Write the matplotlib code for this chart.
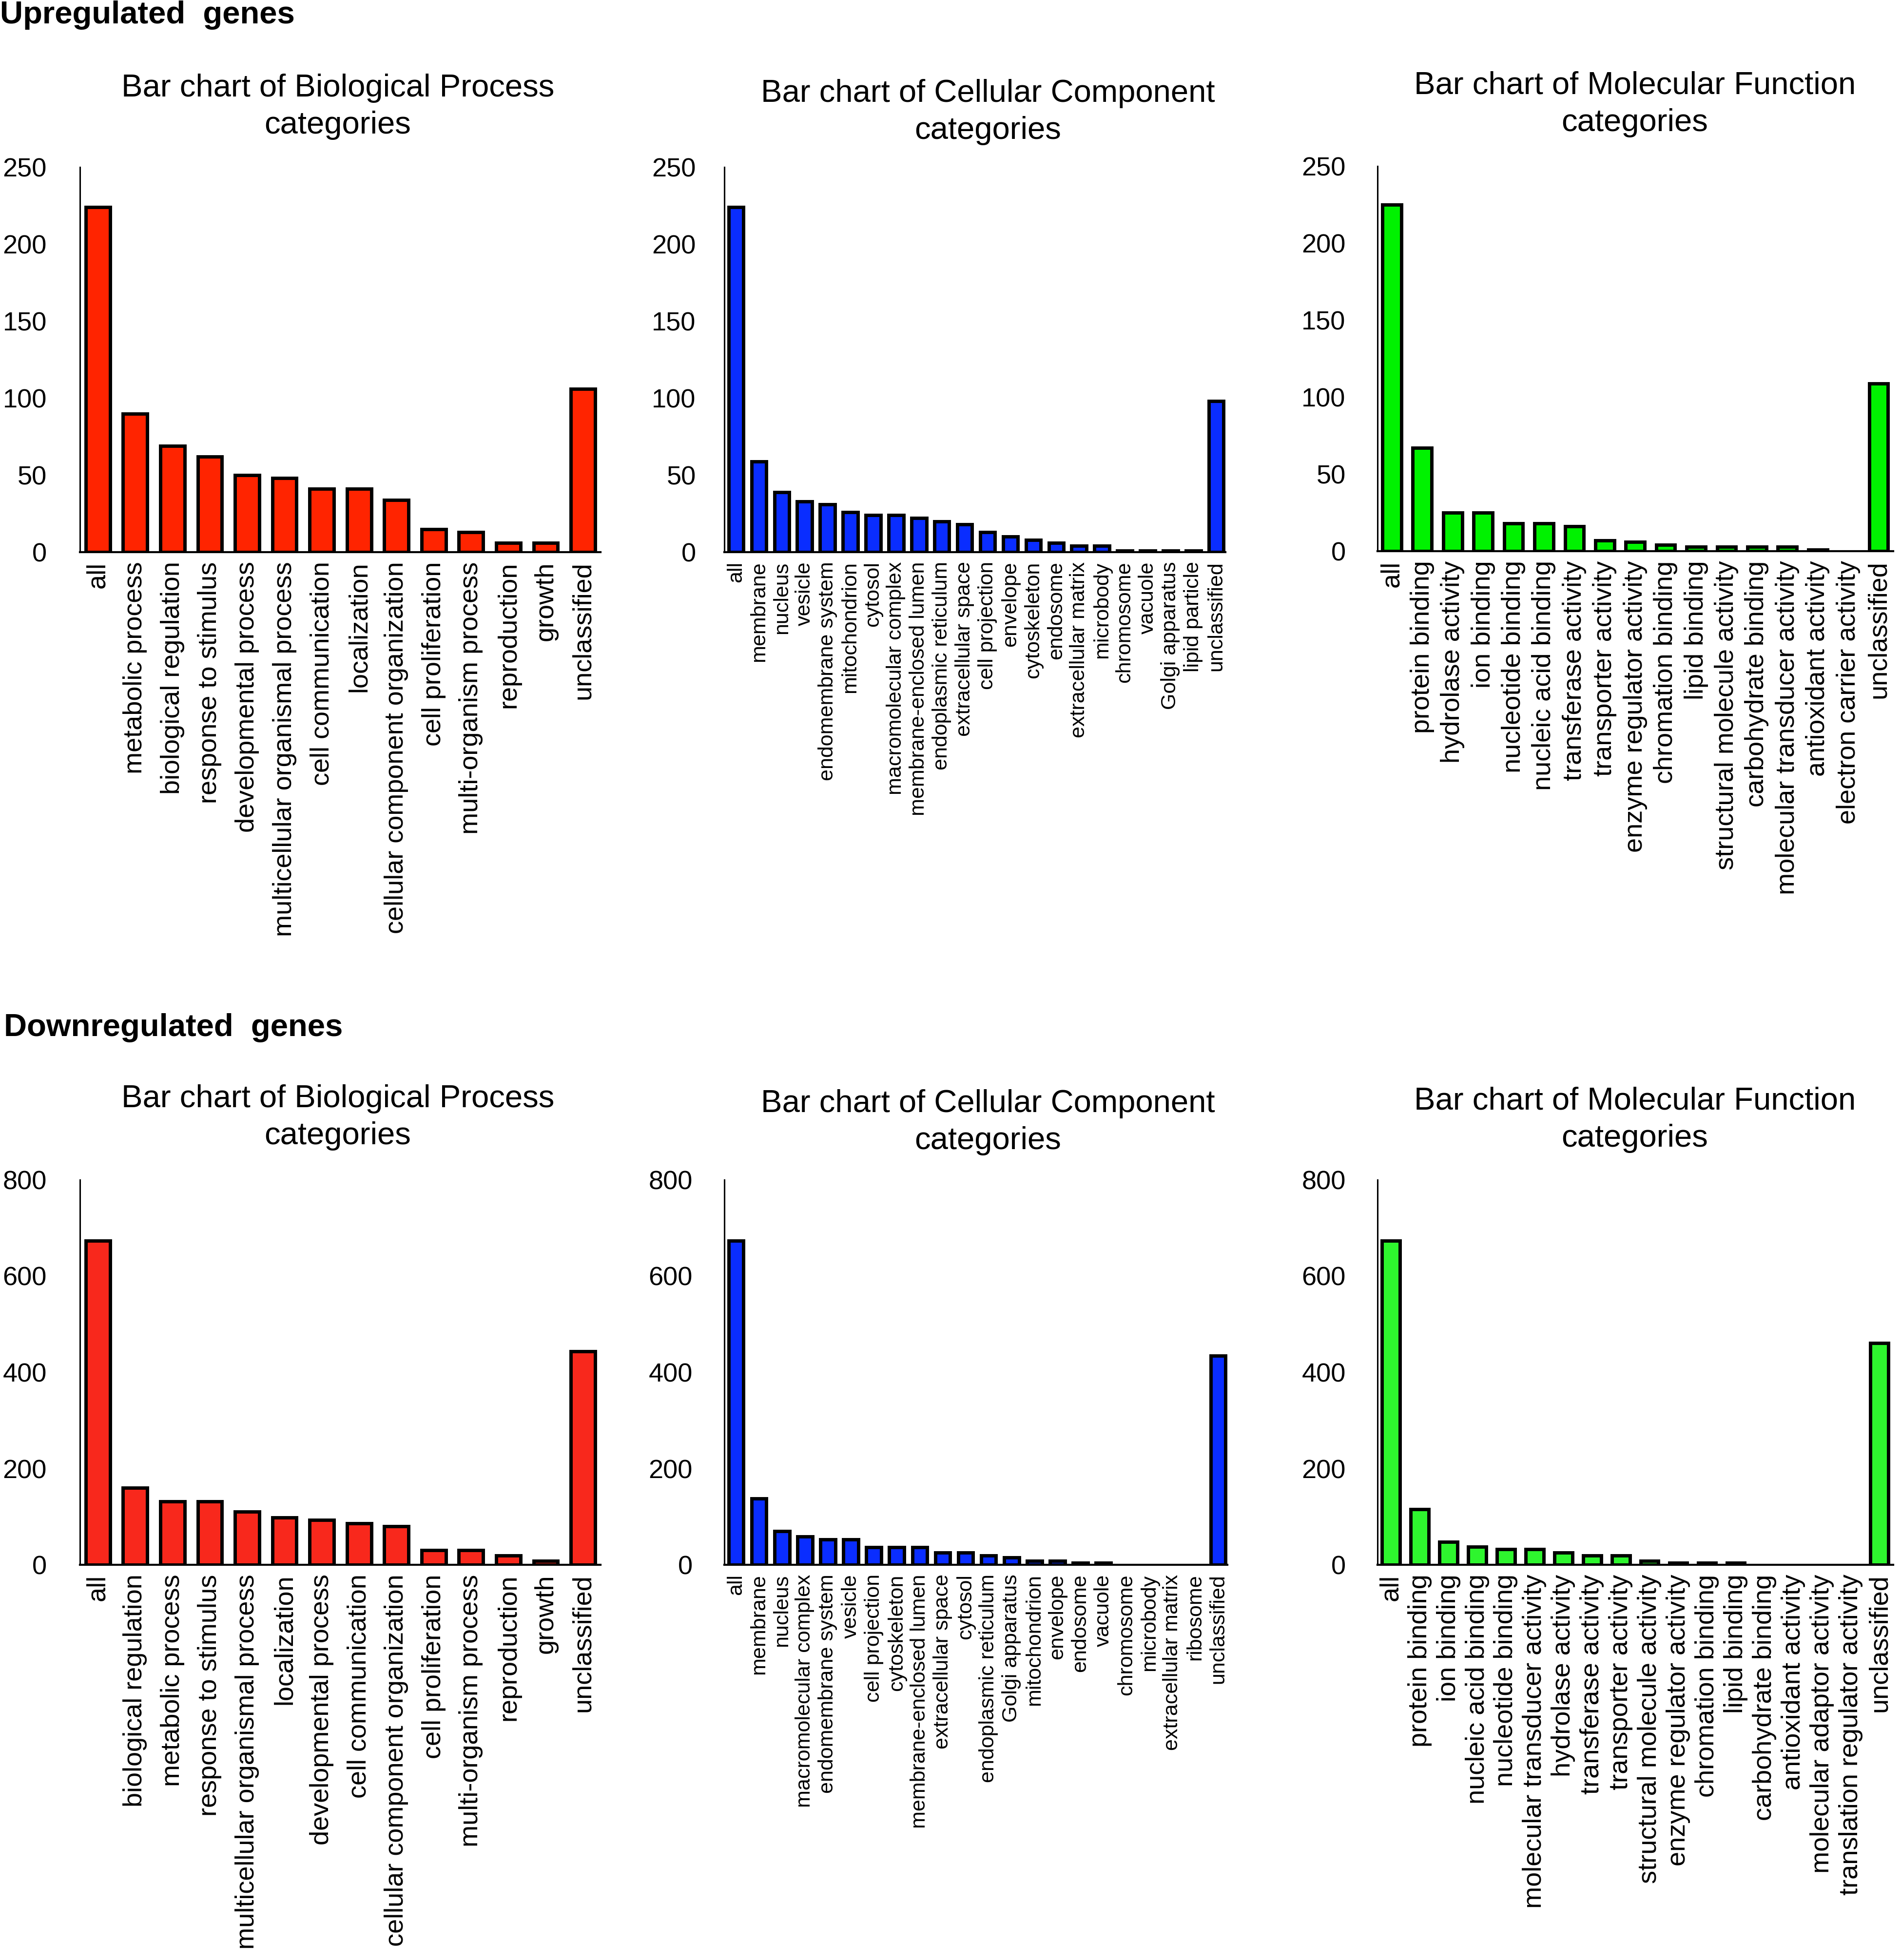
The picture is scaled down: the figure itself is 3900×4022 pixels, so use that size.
import matplotlib.pyplot as plt

plt.rcParams['font.family'] = ['Liberation Sans', 'DejaVu Sans']

# Upregulated genes
up_bp_labels = ['all', 'metabolic process', 'biological regulation', 'response to stimulus',
                'developmental process', 'multicellular organismal process', 'cell communication',
                'localization', 'cellular component organization', 'cell proliferation',
                'multi-organism process', 'reproduction', 'growth', 'unclassified']
up_bp_values = [224, 90, 69, 62, 50, 48, 41, 41, 34, 15, 13, 6, 6, 106]

up_cc_labels = ['all', 'membrane', 'nucleus', 'vesicle', 'endomembrane system', 'mitochondrion',
                'cytosol', 'macromolecular complex', 'membrane-enclosed lumen',
                'endoplasmic reticulum', 'extracellular space', 'cell projection', 'envelope',
                'cytoskeleton', 'endosome', 'extracellular matrix', 'microbody', 'chromosome',
                'vacuole', 'Golgi apparatus', 'lipid particle', 'unclassified']
up_cc_values = [224, 59, 39, 33, 31, 26, 24, 24, 22, 20, 18, 13, 10, 8, 6, 4, 4, 1, 1, 1, 1, 98]

up_mf_labels = ['all', 'protein binding', 'hydrolase activity', 'ion binding', 'nucleotide binding',
                'nucleic acid binding', 'transferase activity', 'transporter activity',
                'enzyme regulator activity', 'chromation binding', 'lipid binding',
                'structural molecule activity', 'carbohydrate binding',
                'molecular transducer activity', 'antioxidant activity',
                'electron carrier activity', 'unclassified']
up_mf_values = [225, 67, 25, 25, 18, 18, 16, 7, 6, 4, 3, 3, 3, 3, 1, 0, 109]

# Downregulated genes
down_bp_labels = ['all', 'biological regulation', 'metabolic process', 'response to stimulus',
                  'multicellular organismal process', 'localization', 'developmental process',
                  'cell communication', 'cellular component organization', 'cell proliferation',
                  'multi-organism process', 'reproduction', 'growth', 'unclassified']
down_bp_values = [673, 160, 132, 132, 110, 98, 93, 86, 80, 30, 30, 19, 8, 444]

down_cc_labels = ['all', 'membrane', 'nucleus', 'macromolecular complex', 'endomembrane system',
                  'vesicle', 'cell projection', 'cytoskeleton', 'membrane-enclosed lumen',
                  'extracellular space', 'cytosol', 'endoplasmic reticulum', 'Golgi apparatus',
                  'mitochondrion', 'envelope', 'endosome', 'vacuole', 'chromosome', 'microbody',
                  'extracellular matrix', 'ribosome', 'unclassified']
down_cc_values = [673, 138, 70, 59, 53, 53, 36, 36, 36, 25, 25, 19, 15, 8, 8, 4, 4, 0, 0, 0, 0, 434]

down_mf_labels = ['all', 'protein binding', 'ion binding', 'nucleic acid binding',
                  'nucleotide binding', 'molecular transducer activity', 'hydrolase activity',
                  'transferase activity', 'transporter activity', 'structural molecule activity',
                  'enzyme regulator activity', 'chromation binding', 'lipid binding',
                  'carbohydrate binding', 'antioxidant activity', 'molecular adaptor activity',
                  'translation regulator activity', 'unclassified']
down_mf_values = [673, 115, 48, 37, 32, 32, 25, 19, 19, 8, 4, 4, 4, 0, 0, 0, 0, 461]

fig = plt.figure(figsize=(39, 40.22), dpi=100)
W, H = 3900, 4022

# labels, values, colour, axes box in px (left, right, top, bottom), y range, x range,
# bar width, label size, y label pad, title, title centre in px
panels = [
    (up_bp_labels, up_bp_values, '#ff2400', 164, 1232, 343, 1133, 250, range(0, 251, 50),
     (-0.48, 13.47), 0.65, 39, 49, 'Biological Process', 693, 219),
    (up_cc_labels, up_cc_values, '#0a2dff', 1486, 2514, 343, 1133, 250, range(0, 251, 50),
     (-0.51, 21.4), 0.65, 31, 42, 'Cellular Component', 2027, 230),
    (up_mf_labels, up_mf_values, '#00f200', 2826, 3884, 341, 1131, 250, range(0, 251, 50),
     (-0.47, 16.48), 0.62, 39, 47, 'Molecular Function', 3354, 214),
    (down_bp_labels, down_bp_values, '#f8281c', 164, 1232, 2421, 3211, 800, range(0, 801, 200),
     (-0.48, 13.47), 0.65, 39, 49, 'Biological Process', 693, 2293),
    (down_cc_labels, down_cc_values, '#0a2dff', 1486, 2518, 2421, 3211, 800, range(0, 801, 200),
     (-0.51, 21.4), 0.65, 31, 47, 'Cellular Component', 2027, 2303),
    (down_mf_labels, down_mf_values, '#2ef52e', 2826, 3884, 2421, 3211, 800, range(0, 801, 200),
     (-0.47, 17.48), 0.62, 39, 47, 'Molecular Function', 3354, 2298),
]

for (labels, values, color, x0, x1, y0, y1, ymax, yticks, xlim, width, fs, ypad,
     title, tx, ty) in panels:
    ax = fig.add_axes([x0 / W, 1 - y1 / H, (x1 - x0) / W, (y1 - y0) / H])
    pos = list(range(len(labels)))
    # empty categories get no outline, as in the original
    lws = [5 if v > 0 else 0 for v in values]
    ax.bar(pos, values, width=width, color=color, edgecolor='black', linewidth=lws)
    ax.set_xlim(*xlim)
    ax.set_ylim(0, ymax)
    ax.set_yticks(list(yticks))
    ax.set_xticks(pos)
    ax.set_xticklabels(labels, rotation=90, fontsize=fs, va='top', ha='center')
    ax.tick_params(axis='x', length=0, pad=14)
    ax.tick_params(axis='y', length=0, pad=ypad, labelsize=39)
    for s in ['top', 'right']:
        ax.spines[s].set_visible(False)
    ax.spines['left'].set_linewidth(2.2)
    ax.spines['bottom'].set_linewidth(3)
    fig.text(tx / W, 1 - ty / H, 'Bar chart of ' + title + '\ncategories',
             ha='center', va='center', fontsize=47, linespacing=1.35)

fig.text(0.0, 1 - 31 / H, 'Upregulated  genes', fontsize=47, fontweight='bold',
         ha='left', va='center')
fig.text(8 / W, 1 - 2109 / H, 'Downregulated  genes', fontsize=47, fontweight='bold',
         ha='left', va='center')

fig.savefig('out.png', dpi=100)
